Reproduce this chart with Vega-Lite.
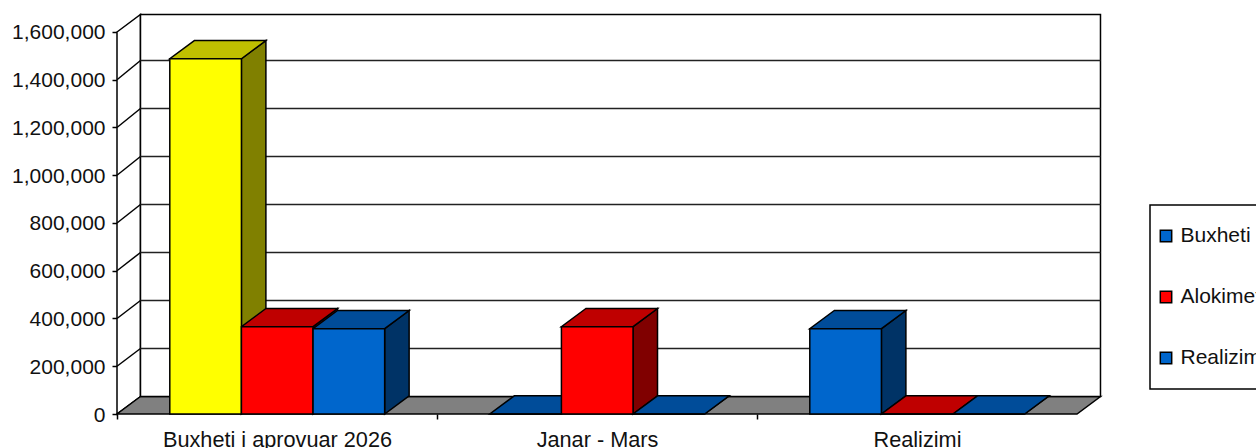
{
"$schema":"https://vega.github.io/schema/vega-lite/v6.json",
"width":984,"height":401,
"autosize":{"type":"none"},
"padding":{"left":117,"top":13,"right":155,"bottom":34},
"background":"white",
"config":{"view":{"stroke":null},"font":"Liberation Sans","legend":{"strokeWidth":1.5}},
"datasets":{
"bars":[
{"category":"Buxheti i aprovuar 2026","series":"Buxheti i aprovuar 2026","value":1488000},
{"category":"Buxheti i aprovuar 2026","series":"Alokimet Janar - Mars","value":365650},
{"category":"Buxheti i aprovuar 2026","series":"Realizimi","value":357300},
{"category":"Janar - Mars","series":"Buxheti i aprovuar 2026","value":0},
{"category":"Janar - Mars","series":"Alokimet Janar - Mars","value":365650},
{"category":"Janar - Mars","series":"Realizimi","value":0},
{"category":"Realizimi","series":"Buxheti i aprovuar 2026","value":357300},
{"category":"Realizimi","series":"Alokimet Janar - Mars","value":0},
{"category":"Realizimi","series":"Realizimi","value":0}
],
"corners":[{"c":0},{"c":1}],
"grid":[{"v":200000},{"v":400000},{"v":600000},{"v":800000},{"v":1000000},{"v":1200000},{"v":1400000}]
},
"layer":[
{"data":{"name":"corners"},
"transform":[{"calculate":"datum.c*0.0734","as":"xa"},{"calculate":"3+datum.c*0.0734","as":"xb"},{"calculate":"datum.c*73300","as":"low"},{"calculate":"datum.c?1673300:1600000","as":"high"}],
"mark":{"type":"area","fill":"white","stroke":"black","strokeWidth":1.5,"clip":false},
"encoding":{
"x":{"field":"xa","type":"quantitative","scale":{"domain":[0,3.075],"nice":false,"zero":false},
"axis":{"title":null,"grid":false,"domain":false,"values":[0,0.5,1,1.5,2,2.5],"tickSize":5,"tickColor":"black","tickWidth":1.5,
"tickOpacity":{"condition":{"test":"datum.value%1===0","value":1},"value":0},
"labelExpr":"datum.value===0.5?'Buxheti i aprovuar 2026':datum.value===1.5?'Janar - Mars':datum.value===2.5?'Realizimi':''",
"labelFontSize":21.7,"labelColor":"#111","labelPadding":10,"labelLimit":500,"labelOverlap":false,"labelFlush":false,"labelBound":false,"labelFont":"Liberation Sans"}},
"y":{"field":"high","type":"quantitative","stack":null,"scale":{"domain":[0,1679581],"nice":false,"zero":false},
"axis":{"title":null,"grid":false,"domain":false,"values":[0,200000,400000,600000,800000,1000000,1200000,1400000,1600000],"labelExpr":"format(datum.value,',')","tickSize":5,"tickColor":"black","tickWidth":1.5,"labelFontSize":21,"labelColor":"#111","labelPadding":7,"labelOffset":1,"labelLimit":300,"labelFont":"Liberation Sans","labelBound":false,"labelFlush":false,"labelOverlap":false}},
"y2":{"field":"low"}}},
{"data":{"name":"corners"},
"transform":[{"calculate":"datum.c*0.0734","as":"xa"},{"calculate":"3+datum.c*0.0734","as":"xb"},{"calculate":"datum.c*73300","as":"yy"}],
"mark":{"type":"area","orient":"horizontal","fill":"#808080","stroke":"black","strokeWidth":1.5},
"encoding":{
"y":{"field":"yy","type":"quantitative","stack":null,"scale":{"domain":[0,1679581],"nice":false,"zero":false},"axis":null},
"x":{"field":"xa","type":"quantitative","scale":{"domain":[0,3.075],"nice":false,"zero":false},"axis":null},
"x2":{"field":"xb"}}},
{"data":{"name":"corners"},
"transform":[{"filter":"datum.c===1"},{"calculate":"0.0734","as":"xa"},{"calculate":"3.0734","as":"xb"},{"calculate":"73300","as":"low"},{"calculate":"1673300","as":"high"}],
"mark":{"type":"rect","fill":"white","stroke":"black","strokeWidth":1.5},
"encoding":{
"x":{"field":"xa","type":"quantitative","scale":{"domain":[0,3.075],"nice":false,"zero":false},"axis":null},
"x2":{"field":"xb"},
"y":{"field":"high","type":"quantitative","scale":{"domain":[0,1679581],"nice":false,"zero":false},"axis":null},
"y2":{"field":"low"}}},
{"data":{"name":"grid"},
"transform":[{"calculate":"[0,1]","as":"c"},{"flatten":["c"]},{"calculate":"datum.c*0.0734","as":"xa"},{"calculate":"datum.c?datum.v*1.00524+73300:datum.v","as":"yy"}],
"mark":{"type":"line","stroke":"black","strokeWidth":1.5},
"encoding":{
"x":{"field":"xa","type":"quantitative","scale":{"domain":[0,3.075],"nice":false,"zero":false},"axis":null},
"y":{"field":"yy","type":"quantitative","stack":null,"scale":{"domain":[0,1679581],"nice":false,"zero":false},"axis":null},
"detail":{"field":"v"}}},
{"data":{"name":"grid"},
"transform":[{"calculate":"0.0734","as":"xa"},{"calculate":"3.0734","as":"xb"},{"calculate":"datum.v*1.00524+73300","as":"yy"}],
"mark":{"type":"rule","stroke":"#222","strokeWidth":1.5},
"encoding":{
"x":{"field":"xa","type":"quantitative","scale":{"domain":[0,3.075],"nice":false,"zero":false},"axis":null},
"x2":{"field":"xb"},
"y":{"field":"yy","type":"quantitative","scale":{"domain":[0,1679581],"nice":false,"zero":false},"axis":null}}},
{"data":{"name":"bars"},
"transform":[
{"calculate":"indexof(['Buxheti i aprovuar 2026','Janar - Mars','Realizimi'],datum.category)+0.165+0.2238*(indexof(['Buxheti i aprovuar 2026','Alokimet Janar - Mars','Realizimi'],datum.series)+1)","as":"right"},
{"calculate":"[0,1]","as":"c"},{"flatten":["c"]},
{"calculate":"datum.right+datum.c*0.0765","as":"xa"},
{"calculate":"datum.value+datum.c*76230","as":"high"},
{"calculate":"datum.c*76230","as":"low"}],
"mark":{"type":"area","stroke":"black","strokeWidth":1.5},
"encoding":{
"x":{"field":"xa","type":"quantitative","scale":{"domain":[0,3.075],"nice":false,"zero":false},"axis":null},
"y":{"field":"high","type":"quantitative","stack":null,"scale":{"domain":[0,1679581],"nice":false,"zero":false},"axis":null},
"y2":{"field":"low"},
"detail":[{"field":"category"},{"field":"series"}],
"color":{"condition":{"test":"datum.category==='Buxheti i aprovuar 2026'&&datum.series==='Buxheti i aprovuar 2026'","value":"#808000"},"field":"series","type":"nominal","scale":{"domain":["Buxheti i aprovuar 2026","Alokimet Janar - Mars","Realizimi"],"range":["#003366","#800000","#003366"]},"legend":null}}},
{"data":{"name":"bars"},
"transform":[
{"calculate":"indexof(['Buxheti i aprovuar 2026','Janar - Mars','Realizimi'],datum.category)+0.165+0.2238*indexof(['Buxheti i aprovuar 2026','Alokimet Janar - Mars','Realizimi'],datum.series)","as":"left"},
{"calculate":"[0,1]","as":"c"},{"flatten":["c"]},
{"calculate":"datum.left+datum.c*0.0765","as":"xa"},
{"calculate":"datum.left+0.2238+datum.c*0.0765","as":"xb"},
{"calculate":"datum.value+datum.c*76230","as":"yy"}],
"mark":{"type":"area","orient":"horizontal","stroke":"black","strokeWidth":1.5},
"encoding":{
"y":{"field":"yy","type":"quantitative","stack":null,"scale":{"domain":[0,1679581],"nice":false,"zero":false},"axis":null},
"x":{"field":"xa","type":"quantitative","scale":{"domain":[0,3.075],"nice":false,"zero":false},"axis":null},
"x2":{"field":"xb"},
"detail":[{"field":"category"},{"field":"series"}],
"color":{"condition":{"test":"datum.category==='Buxheti i aprovuar 2026'&&datum.series==='Buxheti i aprovuar 2026'","value":"#BFBF00"},"field":"series","type":"nominal","scale":{"domain":["Buxheti i aprovuar 2026","Alokimet Janar - Mars","Realizimi"],"range":["#004C99","#BF0000","#004C99"]},"legend":null}}},
{"data":{"name":"bars"},
"transform":[
{"calculate":"indexof(['Buxheti i aprovuar 2026','Janar - Mars','Realizimi'],datum.category)+0.165+0.2238*indexof(['Buxheti i aprovuar 2026','Alokimet Janar - Mars','Realizimi'],datum.series)","as":"left"},
{"calculate":"datum.left+0.2238","as":"right"}],
"mark":{"type":"rect","stroke":"black","strokeWidth":1.5},
"encoding":{
"x":{"field":"left","type":"quantitative","scale":{"domain":[0,3.075],"nice":false,"zero":false},"axis":null},
"x2":{"field":"right"},
"y":{"field":"value","type":"quantitative","scale":{"domain":[0,1679581],"nice":false,"zero":false},"axis":null},
"y2":{"datum":0},
"color":{"condition":{"test":"datum.category==='Buxheti i aprovuar 2026'&&datum.series==='Buxheti i aprovuar 2026'","value":"#FFFF00"},"field":"series","type":"nominal","scale":{"domain":["Buxheti i aprovuar 2026","Alokimet Janar - Mars","Realizimi"],"range":["#0066CC","#FF0000","#0066CC"]},
"legend":{"title":null,"orient":"none","legendX":1033,"legendY":192,"padding":20.5,"fillColor":"white","strokeColor":"black","symbolType":"square","symbolSize":130,"symbolStrokeColor":"black","symbolStrokeWidth":1.5,"symbolOffset":-15,"labelFontSize":21,"labelColor":"#111","labelFont":"Liberation Sans","labelLimit":400,"labelOffset":4,"rowPadding":39}}}}
],
"resolve":{"scale":{"color":"independent"},"axis":{"x":"independent","y":"independent"}}
}
